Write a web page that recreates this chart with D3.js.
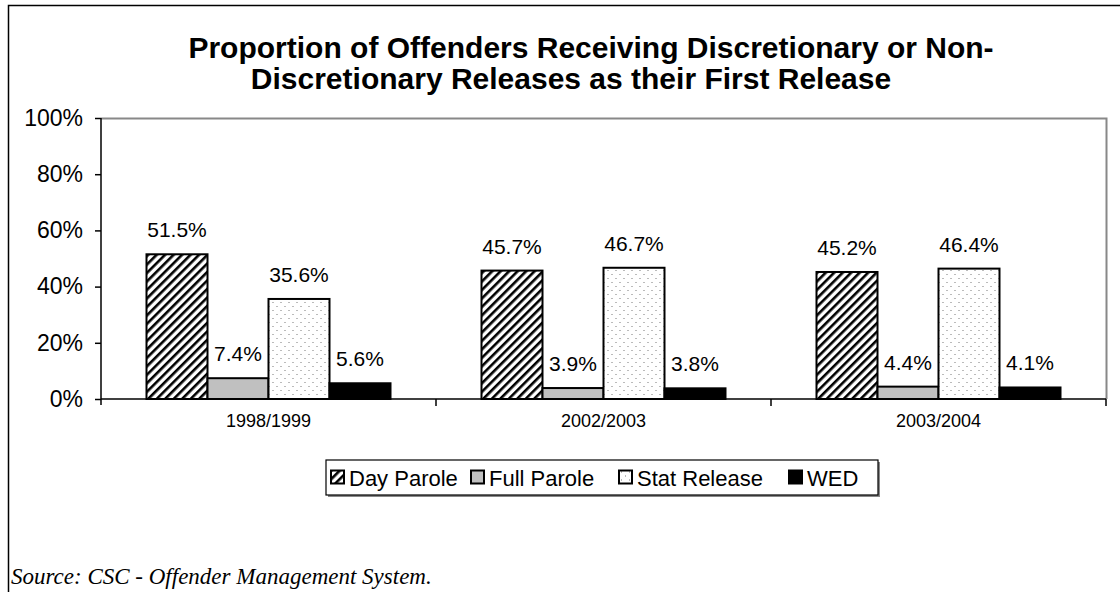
<!DOCTYPE html>
<html>
<head>
<meta charset="utf-8">
<script src="https://cdn.jsdelivr.net/npm/d3@7/dist/d3.min.js"></script>
<style>
  html, body { margin: 0; padding: 0; background: #fff; }
  svg { display: block; }
</style>
</head>
<body>
<svg id="chart" width="1120" height="592"></svg>
<script>
// Release data (share of offenders, %)
const years = ["1998/1999", "2002/2003", "2003/2004"];
const releaseTypes = ["Day Parole", "Full Parole", "Stat Release", "WED"];
const dayParole = [51.5, 45.7, 45.2];
const fullParole = [7.4, 3.9, 4.4];
const statRelease = [35.6, 46.7, 46.4];
const wed = [5.6, 3.8, 4.1];
const yTicks = [0, 20, 40, 60, 80, 100];
const titleLines = [
  "Proportion of Offenders Receiving Discretionary or Non-",
  "Discretionary Releases as their First Release"
];
const sourceNote = "Source: CSC - Offender Management System.";

const seriesValues = [dayParole, fullParole, statRelease, wed];
const fills = ["url(#hatch)", "#c0c0c0", "url(#dots)", "#000000"];
const SANS = "Arial, 'Liberation Sans', sans-serif";
const SERIF = "'Times New Roman', 'Liberation Serif', serif";

const svg = d3.select("#chart");
const defs = svg.append("defs");

// diagonal hatch for Day Parole
const hatch = defs.append("pattern")
  .attr("id", "hatch").attr("patternUnits", "userSpaceOnUse")
  .attr("width", 6).attr("height", 6)
  .attr("patternTransform", "rotate(45)");
hatch.append("rect").attr("width", 6).attr("height", 6).attr("fill", "#fff");
hatch.append("rect").attr("x", 0).attr("y", 0).attr("width", 2.6).attr("height", 6).attr("fill", "#000");

// sparse dot fill for Stat Release
const dots = defs.append("pattern")
  .attr("id", "dots").attr("patternUnits", "userSpaceOnUse")
  .attr("width", 8).attr("height", 8);
dots.append("rect").attr("width", 8).attr("height", 8).attr("fill", "#fff");
dots.append("rect").attr("x", 2).attr("y", 2).attr("width", 1).attr("height", 1).attr("fill", "#777");
dots.append("rect").attr("x", 6).attr("y", 6).attr("width", 1).attr("height", 1).attr("fill", "#777");

// outer frame
svg.append("path")
  .attr("d", "M8.5,592 V5.5 H1120")
  .attr("fill", "none").attr("stroke", "#000").attr("stroke-width", 1.5);

// title
svg.append("g").selectAll("text").data(titleLines).join("text")
  .attr("x", (d, i) => i === 0 ? 591 : 571)
  .attr("y", (d, i) => 58 + i * 31)
  .attr("text-anchor", "middle")
  .style("font-family", SANS)
  .style("font-size", "30px").style("font-weight", "bold")
  .text(d => d);

// plot area
const plotL = 101, plotR = 1106, plotT = 118, plotB = 399;
const x0 = d3.scaleBand().domain(years).range([plotL, plotR]).paddingInner(0).paddingOuter(0);
const groupW = 244;
const x1 = d3.scaleBand().domain(releaseTypes).range([0, groupW]).padding(0);
const y = d3.scaleLinear().domain([0, 100]).range([plotB, plotT]);

// plot border (top & right)
svg.append("path")
  .attr("d", `M${plotL},${plotT + 0.5} H${plotR + 0.5} V${plotB}`)
  .attr("fill", "none").attr("stroke", "#888").attr("stroke-width", 2);

// bars
const groups = svg.append("g").selectAll("g").data(years).join("g")
  .attr("transform", d => `translate(${x0(d) + (x0.bandwidth() - groupW) / 2},0)`);

groups.each(function (yr, gi) {
  const g = d3.select(this);
  releaseTypes.forEach((rt, si) => {
    const v = seriesValues[si][gi];
    g.append("rect")
      .attr("x", x1(rt)).attr("y", y(v))
      .attr("width", x1.bandwidth()).attr("height", plotB - y(v))
      .attr("fill", fills[si])
      .attr("stroke", "#000").attr("stroke-width", 2);
    g.append("text")
      .attr("x", x1(rt) + x1.bandwidth() / 2)
      .attr("y", y(v) - 17)
      .attr("text-anchor", "middle")
      .style("font-family", SANS).style("font-size", "21px")
      .text(v.toFixed(1) + "%");
  });
});

// y axis
const yAxis = d3.axisLeft(y).tickValues(yTicks).tickSize(6).tickPadding(12)
  .tickFormat(d => d + "%");
const yg = svg.append("g").attr("transform", `translate(${plotL},0)`).call(yAxis);
yg.select(".domain").attr("d", `M0,${plotT}V${plotB + 6}`).attr("stroke", "#000").attr("stroke-width", 1.5);
yg.selectAll(".tick line").attr("stroke", "#000").attr("stroke-width", 1.5);
yg.selectAll(".tick text").attr("fill", "#000")
  .style("font-family", SANS).style("font-size", "23px");

// x axis
const xAxis = d3.axisBottom(x0).tickSize(0).tickPadding(15);
const xg = svg.append("g").attr("transform", `translate(0,${plotB})`).call(xAxis);
xg.select(".domain").attr("d", `M${plotL},0H${plotR}`).attr("stroke", "#000").attr("stroke-width", 1.5);
xg.selectAll(".tick text").attr("fill", "#000")
  .style("font-family", SANS).style("font-size", "18px");
// category separators
xg.selectAll("line.sep").data(years).join("line")
  .attr("class", "sep")
  .attr("x1", d => x0(d) + x0.bandwidth()).attr("x2", d => x0(d) + x0.bandwidth())
  .attr("y1", 0).attr("y2", 7)
  .attr("stroke", "#000").attr("stroke-width", 1.5);

// legend
const legX = 326, legY = 460, legW = 552, legH = 35;
svg.append("rect")
  .attr("x", legX + 2).attr("y", legY + 2).attr("width", legW).attr("height", legH)
  .attr("fill", "#888");
svg.append("rect")
  .attr("x", legX).attr("y", legY).attr("width", legW).attr("height", legH)
  .attr("fill", "#fff").attr("stroke", "#000").attr("stroke-width", 1.2);

const legendSwatchX = [331, 471, 619, 789];
const leg = svg.append("g").selectAll("g").data(releaseTypes).join("g")
  .attr("transform", (d, i) => `translate(${legendSwatchX[i]},${legY + legH / 2})`);
leg.append("rect")
  .attr("x", 0).attr("y", -7).attr("width", 13).attr("height", 13)
  .attr("fill", (d, i) => fills[i]).attr("stroke", "#000").attr("stroke-width", 2);
leg.append("text")
  .attr("x", 18).attr("y", 8)
  .style("font-family", SANS).style("font-size", "22px")
  .text(d => d);

// source note
svg.append("text")
  .attr("x", 11).attr("y", 584)
  .style("font-family", SERIF)
  .style("font-style", "italic")
  .style("font-size", "23px")
  .text(sourceNote);
</script>
</body>
</html>
